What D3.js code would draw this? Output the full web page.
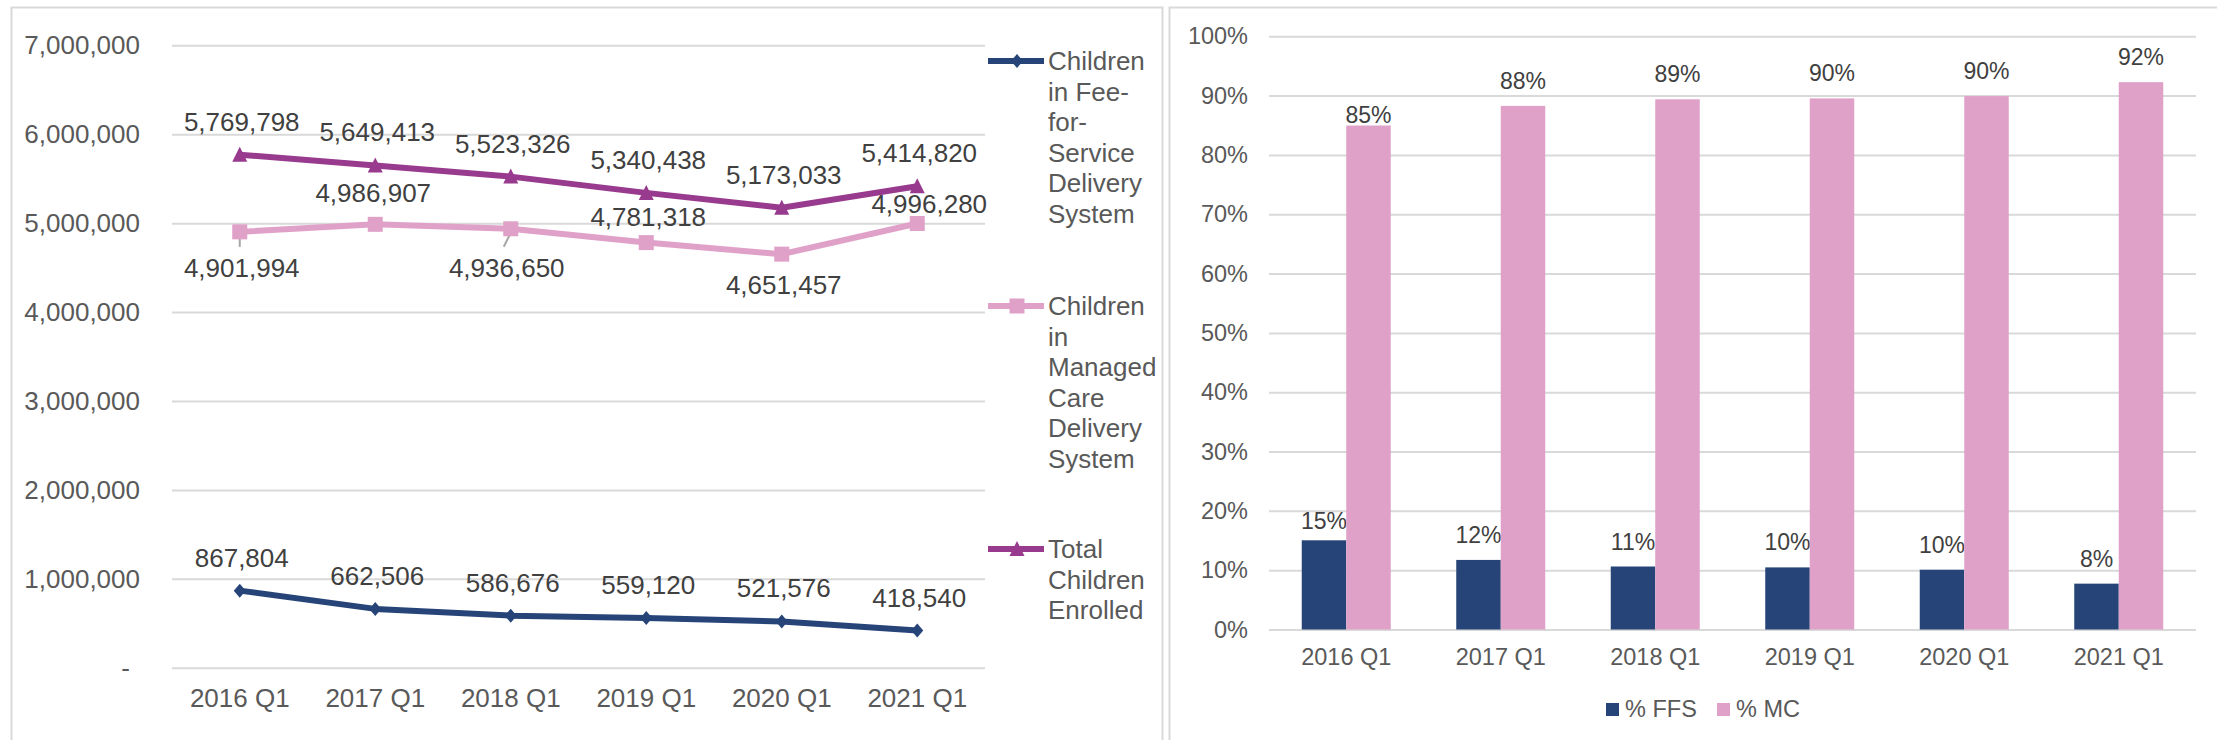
<!DOCTYPE html>
<html>
<head>
<meta charset="utf-8">
<script src="https://cdn.jsdelivr.net/npm/d3@7"></script>
<style>
  html, body { margin: 0; padding: 0; background: #fff; }
  svg { display: block; font-family: "Liberation Sans", Arial, sans-serif; }
</style>
</head>
<body>
<svg id="chart" width="2217" height="740"></svg>
<script>
// data
const quarters = ["2016 Q1", "2017 Q1", "2018 Q1", "2019 Q1", "2020 Q1", "2021 Q1"];
const ffsCount = [867804, 662506, 586676, 559120, 521576, 418540];
const mcCount = [4901994, 4986907, 4936650, 4781318, 4651457, 4996280];
const totalCount = [5769798, 5649413, 5523326, 5340438, 5173033, 5414820];
const countTicks = [0, 1000000, 2000000, 3000000, 4000000, 5000000, 6000000, 7000000];

const ffsShare = [0.1504, 0.1173, 0.1062, 0.1047, 0.1008, 0.0773];
const mcShare = [0.8496, 0.8827, 0.8938, 0.8953, 0.8992, 0.9227];
const shareTicks = [0, 0.1, 0.2, 0.3, 0.4, 0.5, 0.6, 0.7, 0.8, 0.9, 1.0];

const NAVY = "#264478", PINK = "#e0a1c9", PURPLE = "#983a8e";
const GRID = "#d9d9d9", TEXT = "#595959", LABEL = "#404040";

const svg = d3.select("#chart");

// panel frames
svg.append("rect").attr("x", 11.5).attr("y", 7.5).attr("width", 1151).attr("height", 760)
    .attr("fill", "none").attr("stroke", GRID).attr("stroke-width", 2);
svg.append("rect").attr("x", 1169.5).attr("y", 7.5).attr("width", 1100).attr("height", 760)
    .attr("fill", "none").attr("stroke", GRID).attr("stroke-width", 2);

// ---------- left: line chart ----------
const x = d3.scaleBand().domain(quarters).range([172, 985]);
const y = d3.scaleLinear().domain([0, 7000000]).range([667.8, 45.3]);
const cx = d => x(d) + x.bandwidth() / 2;

const yAxis = svg.append("g")
    .attr("transform", "translate(172,0)")
    .call(d3.axisLeft(y).tickValues(countTicks).tickSize(-813).tickPadding(32)
        .tickFormat(d => d === 0 ? "-" : d3.format(",")(d)));
yAxis.select(".domain").remove();
yAxis.selectAll(".tick line").attr("stroke", GRID).attr("stroke-width", 2);
yAxis.selectAll(".tick text").attr("fill", TEXT).style("font-size", "26px").style("font-family", "Liberation Sans");
yAxis.selectAll(".tick text").filter(d => d === 0).attr("x", -42);

const xAxis = svg.append("g")
    .attr("transform", "translate(0,667.8)")
    .call(d3.axisBottom(x).tickSize(0).tickPadding(21));
xAxis.select(".domain").remove();
xAxis.selectAll(".tick text").attr("fill", TEXT).style("font-size", "26px").style("font-family", "Liberation Sans");

const line = d3.line().x((d, i) => cx(quarters[i])).y(d => y(d));

const series = [
    { name: ["Children", "in Fee-", "for-", "Service", "Delivery", "System"], values: ffsCount, color: NAVY, symbol: "diamond", legendY: 61 },
    { name: ["Children", "in", "Managed", "Care", "Delivery", "System"], values: mcCount, color: PINK, symbol: "square", legendY: 306 },
    { name: ["Total", "Children", "Enrolled"], values: totalCount, color: PURPLE, symbol: "triangle", legendY: 549 }
];

function marker(g, kind, color, px, py) {
    if (kind === "diamond") {
        g.append("path").attr("d", `M${px},${py - 7}L${px + 6},${py}L${px},${py + 7}L${px - 6},${py}Z`).attr("fill", color);
    } else if (kind === "square") {
        g.append("rect").attr("x", px - 7.5).attr("y", py - 7.5).attr("width", 15).attr("height", 15).attr("fill", color);
    } else {
        g.append("path").attr("d", `M${px},${py - 8}L${px + 7.5},${py + 7}L${px - 7.5},${py + 7}Z`).attr("fill", color);
    }
}

// leader lines for the two MC labels pulled away from their points
const leaders = svg.append("g").attr("stroke", "#a6a6a6").attr("stroke-width", 2);
leaders.append("line").attr("x1", cx(quarters[0])).attr("y1", y(mcCount[0]) + 4)
    .attr("x2", cx(quarters[0])).attr("y2", y(mcCount[0]) + 15);
leaders.append("line").attr("x1", cx(quarters[2]) + 1).attr("y1", y(mcCount[2]) + 2)
    .attr("x2", cx(quarters[2]) - 7).attr("y2", y(mcCount[2]) + 18);

series.forEach(s => {
    const g = svg.append("g");
    g.append("path").datum(s.values).attr("d", line)
        .attr("fill", "none").attr("stroke", s.color).attr("stroke-width", 6).attr("stroke-linejoin", "round");
    s.values.forEach((v, i) => marker(g, s.symbol, s.color, cx(quarters[i]), y(v)));

    // legend
    const lg = svg.append("g");
    lg.append("line").attr("x1", 988).attr("x2", 1044).attr("y1", s.legendY).attr("y2", s.legendY)
        .attr("stroke", s.color).attr("stroke-width", 6);
    marker(lg, s.symbol, s.color, 1017, s.legendY);
    lg.append("text").attr("x", 1048).attr("fill", TEXT).style("font-size", "26px")
        .selectAll("tspan").data(s.name).join("tspan")
        .attr("x", 1048).attr("y", (d, i) => s.legendY + 9 + i * 30.6).text(d => d);
});

// data labels
const fmt = d3.format(",");
const labels = svg.append("g").attr("fill", LABEL).style("font-size", "26px").attr("text-anchor", "middle");
totalCount.forEach((v, i) => labels.append("text").attr("x", cx(quarters[i]) + 2).attr("y", y(v) - 24).text(fmt(v)));
ffsCount.forEach((v, i) => labels.append("text").attr("x", cx(quarters[i]) + 2).attr("y", y(v) - 24).text(fmt(v)));
const mcOffsets = [[2, 45], [-2, -22], [-4, 48], [2, -17], [2, 40], [12, -10]];
mcCount.forEach((v, i) => labels.append("text")
    .attr("x", cx(quarters[i]) + mcOffsets[i][0]).attr("y", y(v) + mcOffsets[i][1]).text(fmt(v)));

// ---------- right: bar chart ----------
const x0 = d3.scaleBand().domain(quarters).range([1269, 2196]);
const x1 = d3.scaleBand().domain(["ffs", "mc"]).range([0, x0.bandwidth()]).paddingOuter(0.736);
const y2 = d3.scaleLinear().domain([0, 1]).range([629.5, 36.3]);

const y2Axis = svg.append("g")
    .attr("transform", "translate(1269,0)")
    .call(d3.axisLeft(y2).tickValues(shareTicks).tickSize(-927).tickPadding(21).tickFormat(d3.format(".0%")));
y2Axis.select(".domain").remove();
y2Axis.selectAll(".tick line").attr("stroke", GRID).attr("stroke-width", 2);
y2Axis.selectAll(".tick text").attr("fill", TEXT).style("font-size", "23.5px").style("font-family", "Liberation Sans");

const x2Axis = svg.append("g")
    .attr("transform", "translate(0,629.5)")
    .call(d3.axisBottom(x0).tickSize(0).tickPadding(19));
x2Axis.select(".domain").remove();
x2Axis.selectAll(".tick text").attr("fill", TEXT).style("font-size", "23.5px").style("font-family", "Liberation Sans");

const barSeries = [
    { key: "ffs", values: ffsShare, color: NAVY, label: "% FFS" },
    { key: "mc", values: mcShare, color: PINK, label: "% MC" }
];
const pct = d3.format(".0%");
barSeries.forEach(s => {
    svg.append("g").selectAll("rect").data(s.values).join("rect")
        .attr("x", (d, i) => x0(quarters[i]) + x1(s.key))
        .attr("width", x1.bandwidth())
        .attr("y", d => y2(d))
        .attr("height", d => y2(0) - y2(d))
        .attr("fill", s.color);
    svg.append("g").attr("fill", LABEL).style("font-size", "23px").attr("text-anchor", "middle")
        .selectAll("text").data(s.values).join("text")
        .attr("x", (d, i) => x0(quarters[i]) + x1(s.key) + x1.bandwidth() / 2)
        .attr("y", (d, i) => y2(d) - (i === 0 ? (s.key === "ffs" ? 11 : 3) : 17))
        .text(d => pct(d));
});

// bar legend
const blg = svg.append("g").style("font-size", "23.5px").attr("fill", TEXT);
[[1606, 1625], [1717, 1736]].forEach((p, i) => {
    blg.append("rect").attr("x", p[0]).attr("y", 703).attr("width", 13).attr("height", 13).attr("fill", barSeries[i].color);
    blg.append("text").attr("x", p[1]).attr("y", 717).text(barSeries[i].label);
});
</script>
</body>
</html>
